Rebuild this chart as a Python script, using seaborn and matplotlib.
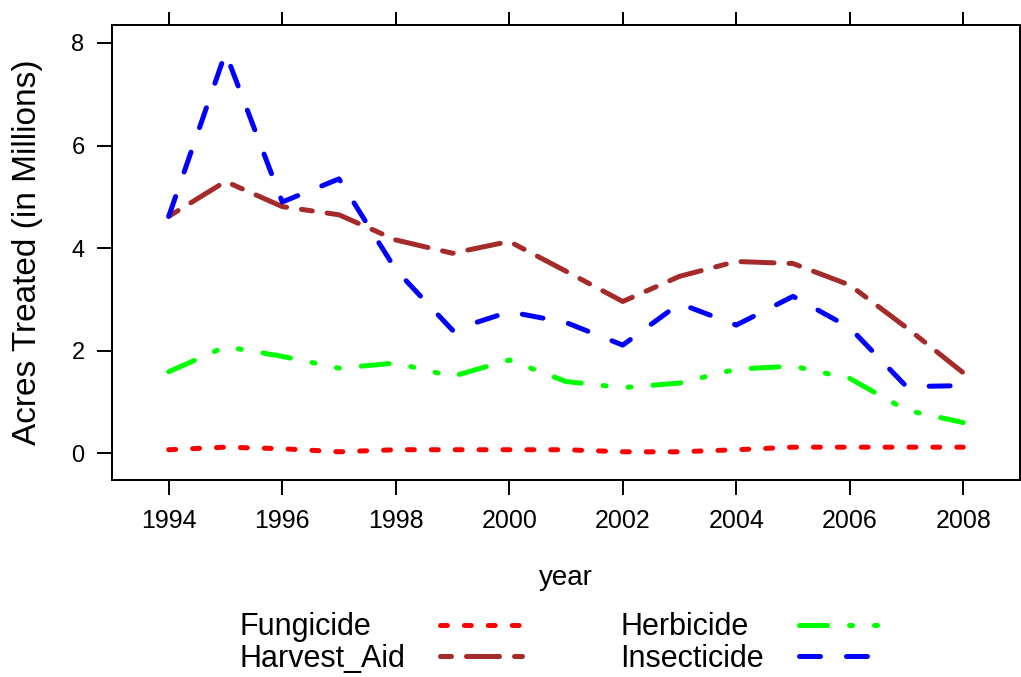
import numpy as np
import pandas as pd
import matplotlib
matplotlib.use("Agg")
import matplotlib.pyplot as plt
from matplotlib.transforms import Bbox
import seaborn as sns

# Acres treated per pesticide class, in millions
years = list(range(1994, 2009))
fungicide = [0.07, 0.12, 0.09, 0.03, 0.07, 0.07, 0.07, 0.07, 0.03, 0.03, 0.07, 0.12, 0.12, 0.12, 0.12]
harvest_aid = [4.62, 5.30, 4.81, 4.65, 4.16, 3.90, 4.13, 3.55, 2.96, 3.45, 3.74, 3.70, 3.28, 2.45, 1.57]
herbicide = [1.59, 2.08, 1.89, 1.66, 1.76, 1.50, 1.82, 1.40, 1.28, 1.37, 1.64, 1.70, 1.46, 0.84, 0.60]
insecticide = [4.62, 7.81, 4.90, 5.35, 3.58, 2.40, 2.76, 2.55, 2.11, 2.92, 2.50, 3.06, 2.45, 1.30, 1.32]

types = ["Fungicide", "Harvest_Aid", "Herbicide", "Insecticide"]
series = [fungicide, harvest_aid, herbicide, insecticide]
x_ticks = [1994, 1996, 1998, 2000, 2002, 2004, 2006, 2008]
y_ticks = [0, 2, 4, 6, 8]

df = pd.DataFrame({
    "year": np.tile(years, len(types)),
    "acres": np.concatenate(series),
    "type": np.repeat(types, len(years)),
})

sns.set_theme(style="white")
plt.rcParams["font.family"] = ["Liberation Sans", "DejaVu Sans"]
plt.rcParams["lines.scale_dashes"] = False
plt.rcParams["lines.dash_capstyle"] = "round"
plt.rcParams["lines.solid_capstyle"] = "round"
for key in ["text.color", "axes.labelcolor", "xtick.color", "ytick.color",
            "axes.edgecolor"]:
    plt.rcParams[key] = "black"

palette = {"Fungicide": "#FF0000", "Harvest_Aid": "#A52A2A",
           "Herbicide": "#00FF00", "Insecticide": "#0000FF"}
# dash patterns in points
dashes = {"Fungicide": (5.0, 12.2),
          "Harvest_Aid": (7.9, 10.8, 23.8, 10.8),
          "Herbicide": (20.2, 15.8, 2.2, 15.8, 2.2, 15.8),
          "Insecticide": (15.1, 18.7)}

fig = plt.figure(figsize=(10.21, 6.77), dpi=100)
ax = fig.add_axes([112 / 1021, 1 - 480 / 677, 908 / 1021, 455 / 677])

sns.lineplot(data=df, x="year", y="acres", hue="type", style="type",
             hue_order=types, style_order=types, palette=palette,
             dashes=dashes, linewidth=3.6, legend=False, ax=ax)
for ln in ax.lines:
    ln.set_dash_capstyle("round")
    ln.set_solid_capstyle("round")

ax.set_xlim(1993.0, 2009.0)
ax.set_ylim(-0.52, 8.35)
ax.set_xticks(x_ticks)
ax.set_yticks(y_ticks)
ax.set_xticklabels([str(v) for v in x_ticks], fontsize=18)
ax.set_yticklabels([str(v) for v in y_ticks], fontsize=17)

for sp in ax.spines.values():
    sp.set_visible(True)
    sp.set_color("black")
    sp.set_linewidth(1.44)

ax.tick_params(axis="x", which="major", direction="out", bottom=True, top=True,
               labelbottom=True, labeltop=False, length=11, width=1.44,
               pad=10, colors="black")
ax.tick_params(axis="y", which="major", direction="out", left=True, right=False,
               labelleft=True, labelright=False, length=10.8, width=1.44,
               pad=9, colors="black")
for t in ax.xaxis.get_major_ticks():
    t.tick2line.set_markersize(9.5)

ax.set_xlabel("year", fontsize=20, va="center")
ax.xaxis.set_label_coords(0.5, (480 - 578) / 455)
ax.set_ylabel("Acres Treated (in Millions)", fontsize=24, va="center")
ax.yaxis.set_label_coords((28 - 112) / 908, 0.5)

leg = ax.legend(ax.lines, types, ncol=2, markerfirst=False, frameon=False,
                fontsize=22, handlelength=2.68, handletextpad=1.15,
                columnspacing=3.2, labelspacing=0.05, borderpad=0,
                borderaxespad=0, loc="center",
                bbox_to_anchor=(560 / 1021, 1 - 643 / 677),
                bbox_transform=fig.transFigure)
for h in leg.get_lines():
    h.set_linewidth(3.6)
    h.set_dash_capstyle("round")


# Left-align the label text in each legend column while keeping the
# sample lines lined up: every label box takes the column's widest width.
def _pad_column(text_areas):
    originals = [ta.get_bbox for ta in text_areas]

    def make(orig):
        def get_bbox(renderer):
            bb = orig(renderer)
            width = max(o(renderer).width for o in originals)
            return Bbox.from_bounds(bb.x0, bb.y0, width, bb.height)
        return get_bbox

    for ta, orig in zip(text_areas, originals):
        ta.get_bbox = make(orig)


for column in leg._legend_handle_box.get_children():
    _pad_column([row.get_children()[0] for row in column.get_children()])

fig.savefig("out.png", dpi=100)
